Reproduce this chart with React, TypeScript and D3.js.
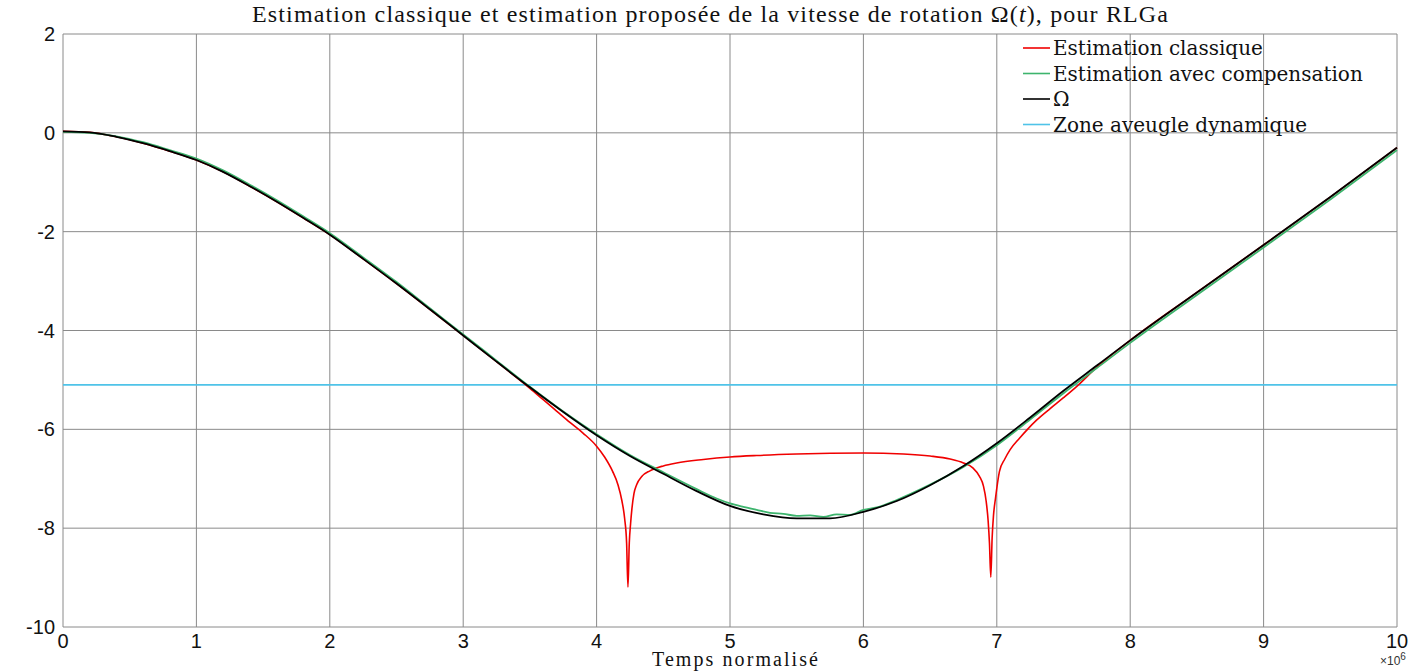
import React from "react";
import * as d3 from "d3";

const xTicks = [0, 1, 2, 3, 4, 5, 6, 7, 8, 9, 10];
const yTicks = [2, 0, -2, -4, -6, -8, -10];

// Ω (reference), x in 1e6 units
const omegaX = [0, 0.2, 0.4, 0.6, 0.8, 1.0, 1.2, 1.4, 1.6, 1.8, 2.0, 2.25, 2.5, 2.75, 3.0, 3.25, 3.5, 3.75, 4.0, 4.25, 4.5, 4.75, 5.0, 5.25, 5.5, 5.75, 6.0, 6.25, 6.5, 6.75, 7.0, 7.25, 7.5, 7.75, 8.0, 8.5, 9.0, 9.5, 10];
const omegaY = [0.03, 0.01, -0.08, -0.21, -0.37, -0.55, -0.79, -1.08, -1.39, -1.72, -2.06, -2.55, -3.05, -3.57, -4.1, -4.63, -5.15, -5.65, -6.12, -6.54, -6.9, -7.25, -7.55, -7.72, -7.8, -7.8, -7.67, -7.45, -7.13, -6.74, -6.28, -5.76, -5.22, -4.71, -4.2, -3.23, -2.27, -1.3, -0.3];

// Estimation avec compensation
const compX = [0, 0.2, 0.4, 0.6, 0.8, 1.0, 1.2, 1.4, 1.6, 1.8, 2.0, 2.25, 2.5, 2.75, 3.0, 3.25, 3.5, 3.75, 4.0, 4.25, 4.5, 4.75, 4.9, 5.0, 5.1, 5.2, 5.3, 5.4, 5.5, 5.6, 5.7, 5.8, 5.9, 6.0, 6.1, 6.25, 6.5, 6.75, 7.0, 7.25, 7.5, 7.75, 8.0, 8.5, 9.0, 9.5, 10];
const compY = [0.02, 0.0, -0.07, -0.19, -0.35, -0.52, -0.76, -1.05, -1.36, -1.69, -2.03, -2.52, -3.02, -3.55, -4.08, -4.61, -5.14, -5.64, -6.1, -6.52, -6.87, -7.21, -7.4, -7.5, -7.57, -7.63, -7.69, -7.71, -7.75, -7.74, -7.77, -7.72, -7.73, -7.63, -7.58, -7.43, -7.12, -6.76, -6.32, -5.8, -5.27, -4.76, -4.25, -3.28, -2.32, -1.35, -0.35];

// Estimation classique
const classX = [0, 0.2, 0.4, 0.6, 0.8, 1.0, 1.2, 1.4, 1.6, 1.8, 2.0, 2.25, 2.5, 2.75, 3.0, 3.25, 3.5, 3.6, 3.7, 3.8, 3.9, 4.0, 4.06, 4.12, 4.16, 4.19, 4.21, 4.225, 4.235, 4.245, 4.255, 4.265, 4.28, 4.3, 4.34, 4.4, 4.5, 4.6, 4.8, 5.0, 5.2, 5.5, 6.0, 6.3, 6.5, 6.65, 6.75, 6.82, 6.87, 6.9, 6.92, 6.935, 6.945, 6.955, 6.965, 6.975, 6.99, 7.02, 7.06, 7.1, 7.17, 7.23, 7.3, 7.4, 7.5, 7.6, 7.75, 8.0, 8.5, 9.0, 9.5, 10];
const classY = [0.03, 0.01, -0.08, -0.21, -0.37, -0.55, -0.79, -1.08, -1.39, -1.72, -2.06, -2.55, -3.05, -3.57, -4.1, -4.63, -5.17, -5.4, -5.63, -5.86, -6.08, -6.34, -6.56, -6.85, -7.12, -7.45, -7.8, -8.3, -9.19, -8.3, -7.9, -7.6, -7.3, -7.12, -6.95, -6.84, -6.74, -6.68, -6.61, -6.56, -6.53, -6.5, -6.48, -6.5, -6.54, -6.6, -6.68, -6.78, -6.95, -7.15, -7.45, -7.85, -8.3, -8.99, -8.2, -7.75, -7.4, -6.85, -6.6, -6.41, -6.18, -6.0, -5.81, -5.58, -5.36, -5.13, -4.74, -4.2, -3.23, -2.27, -1.3, -0.3];

const blindZone = -5.1;

const legendLabels = ["Estimation classique", "Estimation avec compensation", "Ω", "Zone aveugle dynamique"];
const legendColors = ["#f00000", "#3db46d", "#000000", "#4fc3e8"];

const W = 1424;
const H = 672;
const M = { left: 63, right: 1397, top: 34, bottom: 627 };

export default function App() {
  const x = d3.scaleLinear().domain([0, 10]).range([M.left, M.right]);
  const y = d3.scaleLinear().domain([-10, 2]).range([M.bottom, M.top]);
  const line = d3
    .line<[number, number]>()
    .x((d) => x(d[0]))
    .y((d) => y(d[1]))
    .curve(d3.curveMonotoneX);
  const path = (xs: number[], ys: number[]) => line(xs.map((v, i) => [v, ys[i]] as [number, number])) || "";

  const sans = "'Liberation Sans', Arial, sans-serif";
  const serif = "'Liberation Serif', 'Times New Roman', serif";
  const cm = "'DejaVu Serif', serif";
  const grid = "#8a8a8a";

  return (
    <svg width={W} height={H} style={{ position: "absolute", left: 0, top: 0, background: "#fff" }}>
      <rect x={0} y={0} width={W} height={H} fill="#fff" />
      {/* grid */}
      {xTicks.map((t) => (
        <line key={"gx" + t} x1={x(t)} x2={x(t)} y1={M.top} y2={M.bottom} stroke={grid} strokeWidth={1} />
      ))}
      {yTicks.map((t) => (
        <line key={"gy" + t} x1={M.left} x2={M.right} y1={y(t)} y2={y(t)} stroke={grid} strokeWidth={1} />
      ))}
      {/* tick labels */}
      {xTicks.map((t) => (
        <text key={"tx" + t} x={x(t)} y={648} textAnchor="middle" fontFamily={sans} fontSize={20} fill="#111">
          {t}
        </text>
      ))}
      {yTicks.map((t) => (
        <text key={"ty" + t} x={55} y={y(t) + 7} textAnchor="end" fontFamily={sans} fontSize={20} fill="#111">
          {t}
        </text>
      ))}
      <text x={1380} y={665} fontFamily={sans} fontSize={12} fill="#333">
        ×10
        <tspan dy={-5} fontSize={10}>6</tspan>
      </text>

      {/* blind zone */}
      <line x1={x(0)} x2={x(10)} y1={y(blindZone)} y2={y(blindZone)} stroke={legendColors[3]} strokeWidth={1.6} />
      {/* series */}
      <path d={path(classX, classY)} fill="none" stroke={legendColors[0]} strokeWidth={1.6} strokeLinejoin="round" />
      <path d={path(compX, compY)} fill="none" stroke={legendColors[1]} strokeWidth={1.8} strokeLinejoin="round" />
      <path d={path(omegaX, omegaY)} fill="none" stroke={legendColors[2]} strokeWidth={1.8} strokeLinejoin="round" />

      {/* legend */}
      {legendLabels.map((l, i) => (
        <g key={"lg" + i}>
          <line x1={1023} x2={1050} y1={48 + i * 25.5} y2={48 + i * 25.5} stroke={legendColors[i]} strokeWidth={1.6} />
          <text x={1053} y={55 + i * 25.5} fontFamily={cm} fontSize={20} fill="#111">
            {l}
          </text>
        </g>
      ))}

      {/* title */}
      <text x={252} y={22} fontFamily={serif} fontSize={24} fill="#111" textLength={916} lengthAdjust="spacing">
        Estimation classique et estimation proposée de la vitesse de rotation Ω(
        <tspan fontStyle="italic">t</tspan>), pour RLGa
      </text>
      {/* x label */}
      <text x={652} y={666} fontFamily={serif} fontSize={20} fill="#111" textLength={166} lengthAdjust="spacing">
        Temps normalisé
      </text>
    </svg>
  );
}
